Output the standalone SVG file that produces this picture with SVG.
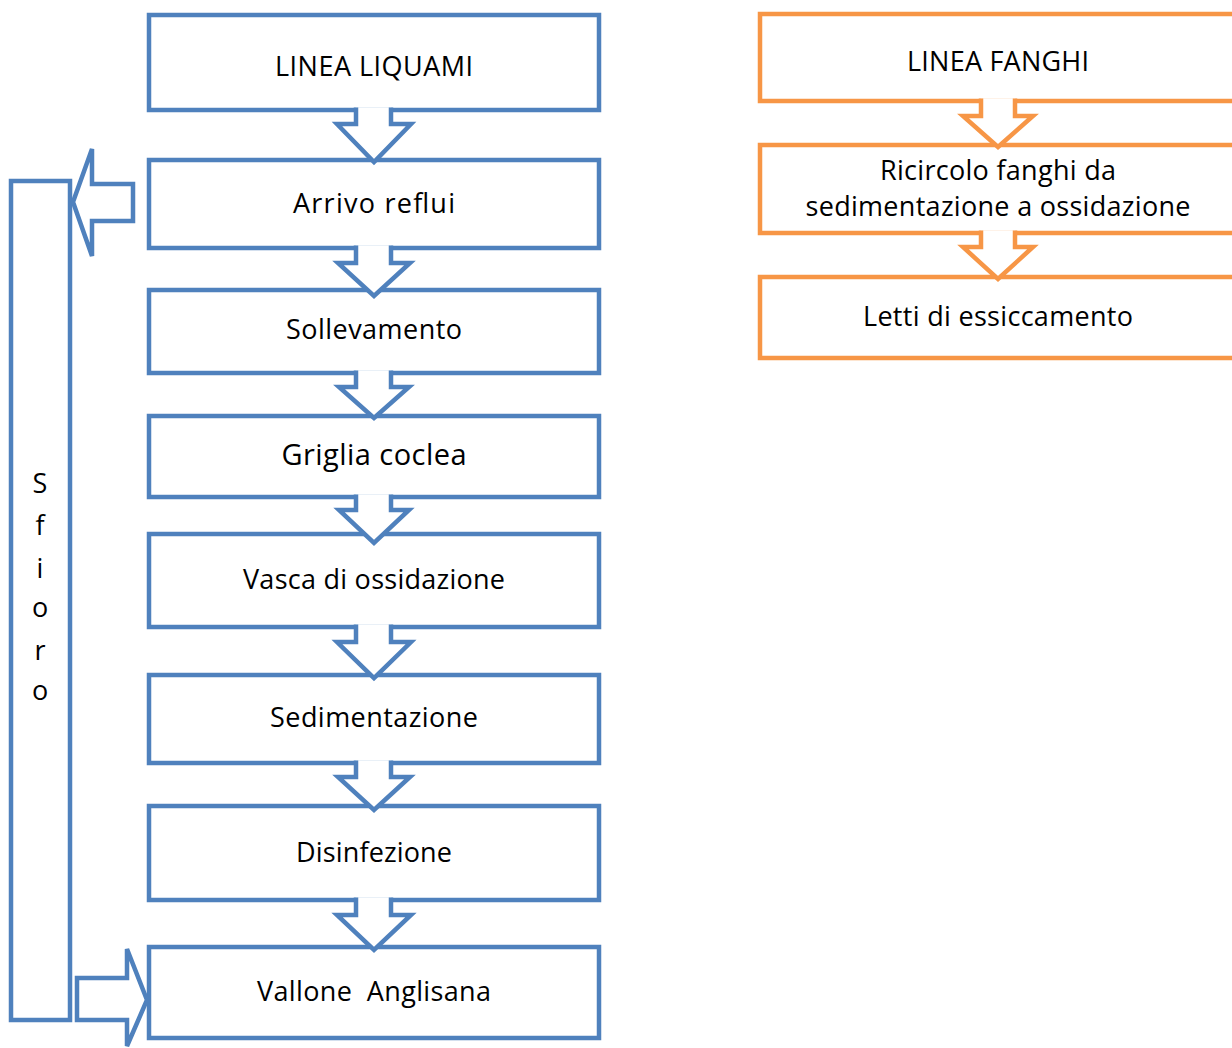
<svg xmlns="http://www.w3.org/2000/svg" width="1232" height="1048" viewBox="0 0 1232 1048">
  <style>
    .blue { fill: #ffffff; stroke: #4F81BD; stroke-width: 4.5; stroke-linejoin: miter; }
    .orange { fill: #ffffff; stroke: #F79646; stroke-width: 4.5; stroke-linejoin: miter; }
    .cover { fill: #ffffff; stroke: none; }
    .line-b { fill: none; stroke: #4F81BD; stroke-width: 4.5; stroke-linejoin: miter; stroke-miterlimit: 10; }
    .line-o { fill: none; stroke: #F79646; stroke-width: 4.5; stroke-linejoin: miter; stroke-miterlimit: 10; }
    text { font-family: "Open Sans", "Noto Sans", "Liberation Sans", sans-serif; font-size: 27px; fill: #000000; text-anchor: middle; }
  </style>
  <rect width="1232" height="1048" fill="#ffffff"/>

  <!-- Sewage line -->
  <g id="linea-liquami"><rect class="blue" x="149" y="15" width="450" height="95"/><text x="374" y="76" textLength="198">LINEA LIQUAMI</text></g>
  <g id="arrivo-reflui"><rect class="blue" x="149" y="160" width="450" height="88"/><text x="374" y="213" textLength="162">Arrivo reflui</text></g>
  <g id="sollevamento"><rect class="blue" x="149" y="290" width="450" height="83"/><text x="374" y="339" textLength="176">Sollevamento</text></g>
  <g id="griglia-coclea"><rect class="blue" x="149" y="416" width="450" height="81"/><text x="374" y="465" style="font-size:29px" textLength="185">Griglia coclea</text></g>
  <g id="vasca-ossidazione"><rect class="blue" x="149" y="534" width="450" height="93"/><text x="374" y="589" textLength="262">Vasca di ossidazione</text></g>
  <g id="sedimentazione"><rect class="blue" x="149" y="675" width="450" height="88"/><text x="374" y="727" textLength="208">Sedimentazione</text></g>
  <g id="disinfezione"><rect class="blue" x="149" y="806" width="450" height="94"/><text x="374" y="862" textLength="156">Disinfezione</text></g>
  <g id="vallone-anglisana"><rect class="blue" x="149" y="947" width="450" height="91"/><text x="374" y="1001" textLength="234" xml:space="preserve">Vallone  Anglisana</text></g>

  <!-- Overflow bypass -->
  <g id="sfioro">
    <rect class="blue" x="11" y="181" width="59" height="839"/>
    <text x="40" y="493">S</text>
    <text x="40" y="535">f</text>
    <text x="40" y="578">i</text>
    <text x="40" y="617">o</text>
    <text x="40" y="660">r</text>
    <text x="40" y="700">o</text>
  </g>

  <!-- Sludge line -->
  <g id="linea-fanghi"><rect class="orange" x="760" y="14" width="476" height="87"/><text x="998" y="71" textLength="182">LINEA FANGHI</text></g>
  <g id="ricircolo-fanghi"><rect class="orange" x="760" y="145" width="476" height="88"/><text x="998" y="180" textLength="236">Ricircolo fanghi da</text><text x="998" y="216" textLength="385">sedimentazione a ossidazione</text></g>
  <g id="letti-essiccamento"><rect class="orange" x="760" y="277" width="476" height="81"/><text x="998" y="326" textLength="270">Letti di essiccamento</text></g>

  <!-- Connectors -->
  <g id="connectors">
    <!-- block arrows down the sewage line -->
    <g>
      <path class="cover" d="M356,107.5 V124 H337 L374,162 L411,124 H391 V107.5 Z"/>
      <path class="line-b" d="M356,107.5 V124 H337 L374,162 L411,124 H391 V107.5"/>
      <path class="cover" d="M356,245.5 V263 H338 L374,296 L410,263 H391 V245.5 Z"/>
      <path class="line-b" d="M356,245.5 V263 H338 L374,296 L410,263 H391 V245.5"/>
      <path class="cover" d="M356,370.5 V387 H339 L374,418 L409,387 H391 V370.5 Z"/>
      <path class="line-b" d="M356,370.5 V387 H339 L374,418 L409,387 H391 V370.5"/>
      <path class="cover" d="M356,494.5 V510 H339 L374,543 L409,510 H391 V494.5 Z"/>
      <path class="line-b" d="M356,494.5 V510 H339 L374,543 L409,510 H391 V494.5"/>
      <path class="cover" d="M356,624.5 V642 H337 L374,678 L411,642 H391 V624.5 Z"/>
      <path class="line-b" d="M356,624.5 V642 H337 L374,678 L411,642 H391 V624.5"/>
      <path class="cover" d="M356,760.5 V777 H338 L374,810 L410,777 H391 V760.5 Z"/>
      <path class="line-b" d="M356,760.5 V777 H338 L374,810 L410,777 H391 V760.5"/>
      <path class="cover" d="M356,897.5 V915 H337 L374,950 L411,915 H391 V897.5 Z"/>
      <path class="line-b" d="M356,897.5 V915 H337 L374,950 L411,915 H391 V897.5"/>
    </g>
    <!-- block arrows down the sludge line -->
    <g>
      <path class="cover" d="M981,98.5 V116 H963 L998,147 L1033,116 H1015 V98.5 Z"/>
      <path class="line-o" d="M981,98.5 V116 H963 L998,147 L1033,116 H1015 V98.5"/>
      <path class="cover" d="M981,230.5 V247 H963 L998,279 L1033,247 H1015 V230.5 Z"/>
      <path class="line-o" d="M981,230.5 V247 H963 L998,279 L1033,247 H1015 V230.5"/>
    </g>
    <!-- overflow out of the inlet and back into the outfall -->
    <path class="blue" d="M73,202 L92,149 V184 H133 V221 H92 V256 Z"/>
    <path class="blue" d="M77,978 H127 V949 L147,1000 L127,1046 V1020 H77 Z"/>
  </g>
</svg>
